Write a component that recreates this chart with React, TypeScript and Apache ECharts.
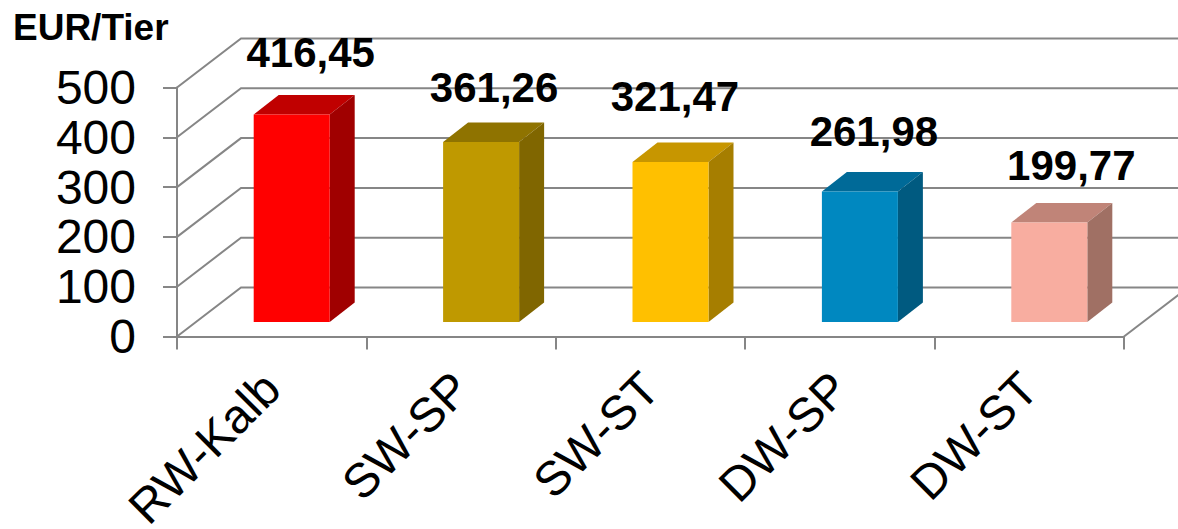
import React, { useEffect, useRef } from "react";
import * as echarts from "echarts";

const categories = ["RW-Kalb", "SW-SP", "SW-ST", "DW-SP", "DW-ST"];
const values = [416.45, 361.26, 321.47, 261.98, 199.77];
const valueLabels = ["416,45", "361,26", "321,47", "261,98", "199,77"];
const frontColors = ["#ff0000", "#bf9900", "#ffc000", "#0088c0", "#f8ada0"];
const topColors = ["#c00000", "#8f7300", "#c79600", "#006a98", "#c08478"];
const sideColors = ["#a00000", "#806600", "#a67e00", "#005a80", "#a07064"];
const ticks = [0, 100, 200, 300, 400, 500];
const unit = "EUR/Tier";

const GRID_COLOR = "#868686";
const FONT = "'Liberation Sans', Arial, sans-serif";
const WALL_DX = 64;
const WALL_DY = 49;
const BAR_W = 76;
const DEPTH_X = 25;
const DEPTH_Y = 19.5;
const BAR_SHIFT_X = 20;
const BAR_SHIFT_Y = 14.5;
// label placement relative to each bar's front top-left corner
const LABEL_NUDGE_X = [57, 51, 42.5, 52, 60];
const LABEL_NUDGE_Y = [-62, -55, -65, -60, -57];

export default function App() {
  const ref = useRef<HTMLDivElement>(null);
  useEffect(() => {
    const chart = echarts.init(ref.current!, null, { renderer: "svg" });
    chart.setOption({
      animation: false,
      backgroundColor: "#ffffff",
      textStyle: { fontFamily: FONT },
      grid: { left: 177, right: 54, top: 87.5, height: 249, outerBoundsMode: "none" },
      graphic: [
        {
          type: "text",
          left: 13,
          top: 9,
          style: { text: unit, font: `bold 37px ${FONT}`, fill: "#000" },
        },
      ],
      xAxis: {
        type: "category",
        data: categories,
        axisLine: { show: true, lineStyle: { color: GRID_COLOR, width: 2 } },
        axisTick: { show: true, length: 13, lineStyle: { color: GRID_COLOR, width: 2 } },
        axisLabel: {
          interval: 0,
          rotate: 45,
          margin: 44,
          fontSize: 48,
          lineHeight: 44,
          color: "#000",
          fontFamily: FONT,
        },
      },
      yAxis: {
        type: "value",
        min: 0,
        max: 500,
        interval: 100,
        splitLine: { show: false },
        axisLine: { show: true, lineStyle: { color: GRID_COLOR, width: 2 } },
        axisTick: { show: true, length: 14, lineStyle: { color: GRID_COLOR, width: 2 } },
        axisLabel: { margin: 41, fontSize: 48, color: "#000", fontFamily: FONT },
      },
      series: [
        {
          type: "custom",
          coordinateSystem: "cartesian2d",
          silent: true,
          z: 1,
          data: ticks.map((t) => [0, t]),
          encode: { x: 0, y: 1 },
          renderItem: (params: any, api: any) => {
            const cs = params.coordSys;
            const y = api.coord([0, api.value(1)])[1];
            const lineStyle = { stroke: GRID_COLOR, lineWidth: 2, fill: "none" };
            const children: any[] = [
              {
                type: "polyline",
                shape: {
                  points: [
                    [cs.x, y],
                    [cs.x + WALL_DX, y - WALL_DY],
                    [cs.x + cs.width + WALL_DX, y - WALL_DY],
                  ],
                },
                style: lineStyle,
              },
            ];
            if (api.value(1) === 0) {
              children.push({
                type: "line",
                shape: {
                  x1: cs.x + cs.width,
                  y1: y,
                  x2: cs.x + cs.width + WALL_DX,
                  y2: y - WALL_DY,
                },
                style: lineStyle,
              });
            }
            return { type: "group", children };
          },
        },
        {
          type: "custom",
          coordinateSystem: "cartesian2d",
          silent: true,
          z: 2,
          data: values.map((v, i) => [i, v]),
          encode: { x: 0, y: 1 },
          renderItem: (params: any, api: any) => {
            const i = params.dataIndex;
            const top = api.coord([i, api.value(1)]);
            const base = api.coord([i, 0]);
            const x0 = top[0] + BAR_SHIFT_X - BAR_W / 2;
            const x1 = x0 + BAR_W;
            const y0 = top[1] - BAR_SHIFT_Y;
            const y1 = base[1] - BAR_SHIFT_Y;
            return {
              type: "group",
              children: [
                {
                  type: "polygon",
                  shape: {
                    points: [
                      [x0, y0],
                      [x0 + DEPTH_X, y0 - DEPTH_Y],
                      [x1 + DEPTH_X, y0 - DEPTH_Y],
                      [x1, y0],
                    ],
                  },
                  style: { fill: topColors[i] },
                },
                {
                  type: "polygon",
                  shape: {
                    points: [
                      [x1, y0],
                      [x1 + DEPTH_X, y0 - DEPTH_Y],
                      [x1 + DEPTH_X, y1 - DEPTH_Y],
                      [x1, y1],
                    ],
                  },
                  style: { fill: sideColors[i] },
                },
                {
                  type: "rect",
                  shape: { x: x0, y: y0, width: BAR_W, height: y1 - y0 },
                  style: { fill: frontColors[i] },
                },
                {
                  type: "text",
                  style: {
                    x: x0 + LABEL_NUDGE_X[i],
                    y: y0 + LABEL_NUDGE_Y[i],
                    text: valueLabels[i],
                    font: `bold 42px ${FONT}`,
                    fill: "#000",
                    textAlign: "center",
                    textVerticalAlign: "middle",
                  },
                },
              ],
            };
          },
        },
      ],
    });
    return () => chart.dispose();
  }, []);
  return <div ref={ref} style={{ position: "fixed", left: 0, top: 0, width: 1178, height: 529 }} />;
}
